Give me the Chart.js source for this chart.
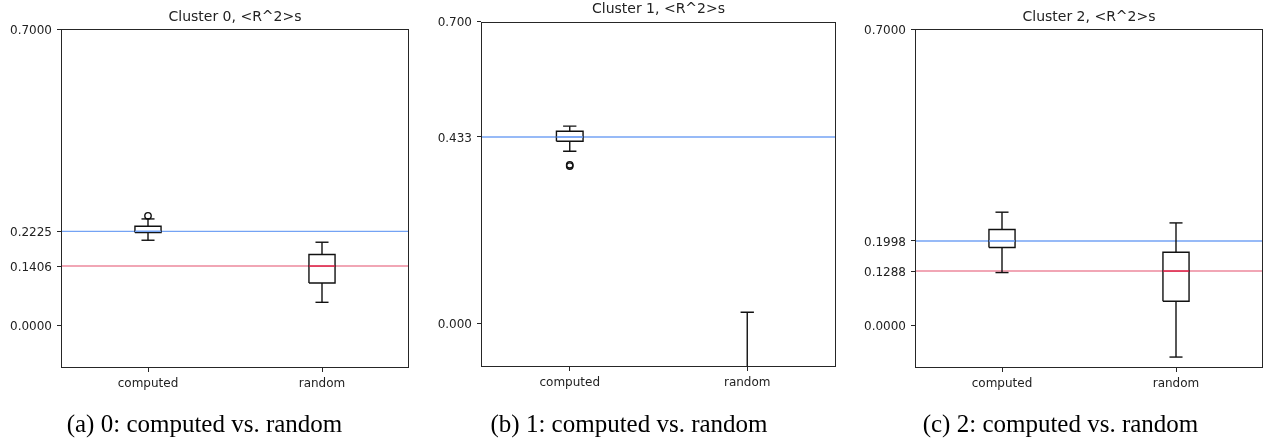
<!DOCTYPE html>
<html>
<head>
<meta charset="utf-8">
<title>Cluster &lt;R^2&gt;s boxplots</title>
<script src="https://cdn.jsdelivr.net/npm/chart.js@4.4.1/dist/chart.umd.min.js"></script>
<style>
  body { margin: 0; background: #fff; width: 1269px; height: 443px; overflow: hidden; position: relative; }
  canvas { position: absolute; top: 0; }
</style>
</head>
<body>
<canvas id="c0" width="420" height="443" style="left:0px"></canvas>
<canvas id="c1" width="428" height="443" style="left:422px"></canvas>
<canvas id="c2" width="411" height="443" style="left:858px"></canvas>
<script>
const categories = ['computed', 'random'];
const titles = ['Cluster 0, <R^2>s', 'Cluster 1, <R^2>s', 'Cluster 2, <R^2>s'];
const captions = ['(a) 0: computed vs. random', '(b) 1: computed vs. random', '(c) 2: computed vs. random'];

// box stats: [lower whisker, q1, median, q3, upper whisker]
const computed0 = [0.2015, 0.2195, 0.2225, 0.2345, 0.2518];
const random0 = [0.0550, 0.1006, 0.1406, 0.1677, 0.1968];
const computed1 = [0.3999, 0.4230, 0.4330, 0.4463, 0.4580];
const random1 = [-0.6200, -0.4200, -0.3100, -0.2000, 0.0270];
const computed2 = [0.1252, 0.1843, 0.1998, 0.2268, 0.2677];
const random2 = [-0.0742, 0.0574, 0.1288, 0.1732, 0.2424];

const computedOutliers0 = [0.2590];
const randomOutliers0 = [];
const computedOutliers1 = [0.3655, 0.3685];
const randomOutliers1 = [];
const computedOutliers2 = [];
const randomOutliers2 = [];

const yTicks0 = [0, 0.1406, 0.2225, 0.7];
const yTicks1 = [0, 0.433, 0.7];
const yTicks2 = [0, 0.1288, 0.1998, 0.7];
const yMin = -0.1;
const yMax = 0.7;

const panels = [
    { id: 'c0', stats: [computed0, random0], outliers: [computedOutliers0, randomOutliers0], ticks: yTicks0, decimals: 4,
      axisWidth: 61, padRight: 11, titleTop: 8.6, titleBottom: 3.6, capTop: 15, capBottom: 3 },
    { id: 'c1', stats: [computed1, random1], outliers: [computedOutliers1, randomOutliers1], ticks: yTicks1, decimals: 3,
      axisWidth: 59, padRight: 14, titleTop: 0.9, titleBottom: 4.0, capTop: 16, capBottom: 3 },
    { id: 'c2', stats: [computed2, random2], outliers: [computedOutliers2, randomOutliers2], ticks: yTicks2, decimals: 4,
      axisWidth: 57, padRight: 6, titleTop: 8.6, titleBottom: 3.6, capTop: 15, capBottom: 3 }
];

const BOX_HALF = 0.075;
const CAP_HALF = 0.0375;
const lineColors = ['#74a3f4', 'rgba(220, 20, 60, 0.5)'];
const medianColors = ['#74a3f4', '#dc1f45'];
const textColor = '#222';

// frame around the plot, like matplotlib spines
const framePlugin = {
    id: 'frame',
    afterDraw(chart) {
        const { ctx, chartArea } = chart;
        const l = Math.round(chartArea.left) + 0.5;
        const t = Math.round(chartArea.top) + 0.5;
        const r = Math.round(chartArea.right) - 0.5;
        const b = Math.round(chartArea.bottom) - 0.5;
        ctx.save();
        ctx.strokeStyle = '#262626';
        ctx.lineWidth = 1;
        ctx.strokeRect(l, t, r - l, b - t);
        ctx.restore();
    }
};

function seg(x1, y1, x2, y2, color, width, order) {
    return {
        type: 'scatter',
        data: [{ x: x1, y: y1 }, { x: x2, y: y2 }],
        showLine: true,
        borderColor: color,
        borderWidth: width,
        pointRadius: 0,
        order: order
    };
}

function buildDatasets(panel) {
    const sets = [];
    panel.stats.forEach((s, i) => {
        const x = i + 1;
        const [lo, q1, med, q3, hi] = s;
        // reference line at the median of each group
        sets.push(seg(0.5, med, 2.5, med, lineColors[i], 1.4, 3));
        // box
        sets.push({
            type: 'scatter',
            data: [
                { x: x - BOX_HALF, y: q1 }, { x: x + BOX_HALF, y: q1 },
                { x: x + BOX_HALF, y: q3 }, { x: x - BOX_HALF, y: q3 },
                { x: x - BOX_HALF, y: q1 }
            ],
            showLine: true,
            borderColor: '#111',
            borderWidth: 1.4,
            borderJoinStyle: 'miter',
            pointRadius: 0,
            order: 2
        });
        // whiskers and caps
        sets.push(seg(x, q1, x, lo, '#111', 1.4, 2));
        sets.push(seg(x, q3, x, hi, '#111', 1.4, 2));
        sets.push(seg(x - CAP_HALF, lo, x + CAP_HALF, lo, '#111', 1.4, 2));
        sets.push(seg(x - CAP_HALF, hi, x + CAP_HALF, hi, '#111', 1.4, 2));
        // median
        sets.push(seg(x - BOX_HALF, med, x + BOX_HALF, med, medianColors[i], 1.4, 1));
        // outliers
        sets.push({
            type: 'scatter',
            data: panel.outliers[i].map(v => ({ x: x, y: v })),
            pointStyle: 'circle',
            pointRadius: 3.2,
            borderWidth: 1.4,
            borderColor: '#111',
            backgroundColor: 'rgba(0,0,0,0)',
            order: 1
        });
    });
    return sets;
}

panels.forEach((panel, k) => {
    new Chart(document.getElementById(panel.id), {
        type: 'scatter',
        data: { datasets: buildDatasets(panel) },
        plugins: [framePlugin],
        options: {
            responsive: false,
            animation: false,
            devicePixelRatio: 1,
            layout: { padding: { left: 0, right: panel.padRight, top: 0, bottom: 0 } },
            plugins: {
                legend: { display: false },
                tooltip: { enabled: false },
                title: {
                    display: true,
                    text: titles[k],
                    fullSize: false,
                    color: textColor,
                    font: { family: 'DejaVu Sans', size: 14, weight: 'normal', lineHeight: 1.2 },
                    padding: { top: panel.titleTop, bottom: panel.titleBottom }
                },
                subtitle: {
                    display: true,
                    position: 'bottom',
                    text: captions[k],
                    fullSize: true,
                    color: '#000',
                    font: { family: 'Liberation Serif', size: 25, weight: 'normal', lineHeight: 1.2 },
                    padding: { top: panel.capTop, bottom: panel.capBottom }
                }
            },
            scales: {
                x: {
                    type: 'linear',
                    min: 0.5,
                    max: 2.5,
                    afterBuildTicks: scale => { scale.ticks = categories.map((c, i) => ({ value: i + 1 })); },
                    afterFit: scale => { scale.height = 27; },
                    ticks: {
                        callback: v => categories[v - 1],
                        color: textColor,
                        font: { family: 'DejaVu Sans', size: 12 },
                        padding: 5,
                        maxRotation: 0
                    },
                    grid: { drawOnChartArea: false, drawTicks: true, tickLength: 4, color: '#262626' },
                    border: { display: false }
                },
                y: {
                    type: 'linear',
                    min: yMin,
                    max: yMax,
                    afterBuildTicks: scale => { scale.ticks = panel.ticks.map(v => ({ value: v })); },
                    afterFit: scale => { scale.width = panel.axisWidth; },
                    ticks: {
                        callback: v => v.toFixed(panel.decimals),
                        color: textColor,
                        font: { family: 'DejaVu Sans', size: 12 },
                        padding: 5,
                        labelOffset: 1.5
                    },
                    grid: { drawOnChartArea: false, drawTicks: true, tickLength: 4, color: '#262626' },
                    border: { display: false }
                }
            }
        }
    });
});
</script>
</body>
</html>
